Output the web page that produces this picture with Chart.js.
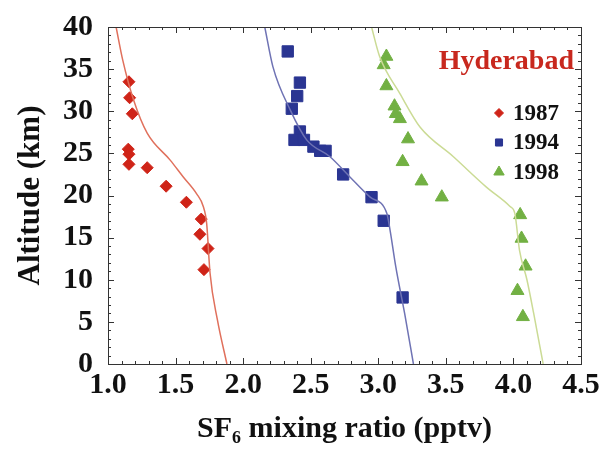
<!DOCTYPE html>
<html>
<head>
<meta charset="utf-8">
<script src="https://cdn.jsdelivr.net/npm/chart.js@4.4.1/dist/chart.umd.min.js"></script>
<style>
  html, body { margin: 0; padding: 0; background: #fff; }
</style>
</head>
<body>
<canvas id="chart" width="602" height="453"></canvas>
<script>
const FONT = '"Liberation Serif", "Times New Roman", serif'

const years = ['1987', '1994', '1998']
const site = 'Hyderabad'

// measured points (SF6 pptv, altitude km)
const obs1987X = [1.155, 1.16, 1.18, 1.15, 1.155, 1.155, 1.29, 1.43, 1.58, 1.69, 1.68, 1.74, 1.71]
const obs1987Y = [33.5, 31.6, 29.7, 25.5, 24.9, 23.7, 23.3, 21.1, 19.2, 17.2, 15.4, 13.7, 11.2]

const obs1994X = [2.33, 2.42, 2.40, 2.36, 2.42, 2.38, 2.45, 2.52, 2.57, 2.61, 2.74, 2.95, 3.04, 3.18]
const obs1994Y = [37.1, 33.4, 31.8, 30.3, 27.6, 26.6, 26.6, 25.8, 25.3, 25.3, 22.5, 19.8, 17.0, 7.9]

const obs1998X = [3.06, 3.04, 3.06, 3.12, 3.13, 3.16, 3.22, 3.18, 3.32, 3.47, 4.05, 4.06, 4.09, 4.03, 4.07]
const obs1998Y = [36.5, 35.5, 33.0, 30.6, 29.7, 29.1, 26.7, 24.0, 21.7, 19.8, 17.7, 14.9, 11.6, 8.7, 5.6]

// model profiles
const model1987X = [1.06, 1.11, 1.19, 1.29, 1.46, 1.557, 1.656, 1.705, 1.73, 1.755, 1.81, 1.88]
const model1987Y = [40, 36, 31.3, 27.4, 24.2, 22.2, 20.2, 18.7, 16.7, 10.8, 5.2, 0]

const model1994X = [2.16, 2.22, 2.35, 2.47, 2.643, 2.79, 2.94, 3.063, 3.087, 3.13, 3.195, 3.26]
const model1994Y = [40, 35.3, 30.1, 26.6, 24.6, 22.2, 19.8, 17.9, 15.9, 11.5, 6, 0]

const model1998X = [2.95, 3.01, 3.16, 3.31, 3.556, 3.80, 3.975, 4.01, 4.045, 4.10, 4.15, 4.22]
const model1998Y = [40, 36.5, 32.1, 28.1, 24.6, 21.0, 18.7, 17.9, 13.5, 10, 6, 0]

const xTicks = [1.0, 1.5, 2.0, 2.5, 3.0, 3.5, 4.0, 4.5]
const yTicks = [0, 5, 10, 15, 20, 25, 30, 35, 40]

const markColors = ['#cf2418', '#2a3592', '#72b043']
const lineColors = ['#e0705c', '#6f73b4', '#cbdb95']
const styles = ['rectRot', 'rect', 'triangle']
const radii = [6, 8, 7.5]

const pts = (xs, ys) => xs.map((v, i) => ({x: v, y: ys[i]}))

const obs = [pts(obs1987X, obs1987Y), pts(obs1994X, obs1994Y), pts(obs1998X, obs1998Y)]
const models = [pts(model1987X, model1987Y), pts(model1994X, model1994Y), pts(model1998X, model1998Y)]

const datasets = []
models.forEach((m, i) => {
    datasets.push({
        type: 'line',
        label: years[i] + ' model',
        data: m,
        borderColor: lineColors[i],
        borderWidth: 1.5,
        pointRadius: 0,
        cubicInterpolationMode: 'monotone',
        fill: false,
    })
})
obs.forEach((o, i) => {
    datasets.push({
        type: 'scatter',
        label: years[i],
        data: o,
        backgroundColor: markColors[i],
        borderColor: markColors[i],
        borderWidth: 1,
        pointStyle: styles[i],
        pointRadius: radii[i],
    })
})

// frame, inward ticks and the in-plot legend
const framePlugin = {
    id: 'frame',
    afterDraw(chart) {
        const {ctx, chartArea: a, scales: {x, y}} = chart
        ctx.save()
        ctx.strokeStyle = '#333'
        ctx.lineWidth = 1
        ctx.strokeRect(a.left + 0.5, a.top + 0.5, a.right - a.left, a.bottom - a.top)
        ctx.beginPath()
        for (let i = 0; i <= 35; i++) {
            const px = Math.round(x.getPixelForValue(1 + i / 10)) + 0.5
            const len = i % 5 === 0 ? 6 : 3
            ctx.moveTo(px, a.bottom); ctx.lineTo(px, a.bottom - len)
            ctx.moveTo(px, a.top); ctx.lineTo(px, a.top + len)
        }
        for (let i = 0; i <= 40; i++) {
            const py = Math.round(y.getPixelForValue(i)) + 0.5
            const len = i % 5 === 0 ? 6 : 3
            ctx.moveTo(a.left, py); ctx.lineTo(a.left + len, py)
            ctx.moveTo(a.right, py); ctx.lineTo(a.right - len, py)
        }
        ctx.stroke()

        ctx.fillStyle = '#c8281e'
        ctx.font = 'bold 28px ' + FONT
        ctx.textAlign = 'right'
        ctx.textBaseline = 'middle'
        ctx.fillText(site, a.right - 7, 62)

        const legendR = [4.5, 5, 6]
        years.forEach((yr, i) => {
            const ly = 113 + i * 29.5
            ctx.fillStyle = markColors[i]
            ctx.strokeStyle = markColors[i]
            Chart.helpers.drawPoint(ctx, {pointStyle: styles[i], radius: legendR[i], rotation: 0, borderWidth: 1}, 499, ly)
            ctx.fillStyle = '#111'
            ctx.font = 'bold 23px ' + FONT
            ctx.textAlign = 'left'
            ctx.fillText(yr, 513, ly + 1)
        })
        ctx.restore()
    }
}

new Chart(document.getElementById('chart'), {
    data: {datasets: datasets},
    options: {
        responsive: false,
        animation: false,
        layout: {padding: {top: 27, right: 21, left: 0, bottom: 0}},
        plugins: {
            legend: {display: false},
            tooltip: {enabled: false},
        },
        scales: {
            x: {
                type: 'linear',
                min: 1,
                max: 4.5,
                afterFit: (s) => { s.height = 89; s.paddingLeft = 0; s.paddingRight = 0 },
                afterBuildTicks: (s) => { s.ticks = xTicks.map(v => ({value: v})) },
                grid: {display: false, drawTicks: false},
                border: {display: false},
                ticks: {
                    padding: 3,
                    color: '#111',
                    font: {family: FONT, size: 30, weight: 'bold'},
                    callback: (v) => v.toFixed(1),
                },
                title: {
                    display: true,
                    text: 'SF\u2086 mixing ratio (pptv)',
                    color: '#111',
                    font: {family: FONT, size: 30, weight: 'bold'},
                    padding: {top: 0, bottom: 6},
                },
            },
            y: {
                type: 'linear',
                min: 0,
                max: 40,
                afterFit: (s) => { s.width = 108; s.paddingTop = 0; s.paddingBottom = 0 },
                afterBuildTicks: (s) => { s.ticks = yTicks.map(v => ({value: v})) },
                grid: {display: false, drawTicks: false},
                border: {display: false},
                ticks: {
                    padding: 15,
                    color: '#111',
                    font: {family: FONT, size: 30, weight: 'bold'},
                },
                title: {
                    display: true,
                    text: 'Altitude (km)',
                    color: '#111',
                    font: {family: FONT, size: 31, weight: 'bold'},
                    padding: {top: 12, bottom: 0},
                },
            },
        },
    },
    plugins: [framePlugin],
})
</script>
</body>
</html>
